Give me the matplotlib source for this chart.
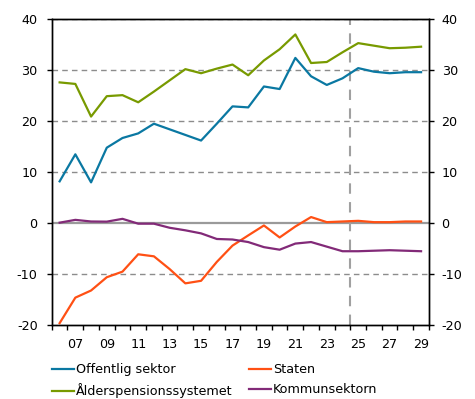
import matplotlib
matplotlib.use("Agg")
import matplotlib.pyplot as plt
import numpy as np

years = list(range(2006, 2030))
offentlig = [8.2, 13.5, 8.0, 14.8, 16.7, 17.6, 19.5, 18.4, 17.3, 16.2, 19.5, 22.9, 22.7,
             26.8, 26.3, 32.4, 28.8, 27.1, 28.4, 30.4, 29.7, 29.4, 29.6, 29.6]
staten = [-19.6, -14.6, -13.2, -10.6, -9.5, -6.1, -6.5, -9.0, -11.8, -11.3, -7.6, -4.4, -2.4,
          -0.45, -2.8, -0.65, 1.2, 0.2, 0.33, 0.46, 0.2, 0.2, 0.33, 0.33]
alders = [27.6, 27.3, 20.9, 24.9, 25.1, 23.7, 25.8, 28.0, 30.2, 29.4, 30.3, 31.1, 29.0,
          31.9, 34.1, 37.0, 31.4, 31.6, 33.5, 35.3, 34.8, 34.3, 34.4, 34.6]
kommun = [0.1, 0.65, 0.33, 0.3, 0.85, -0.1, -0.1, -0.9, -1.4, -2.0, -3.1, -3.2, -3.7,
          -4.7, -5.2, -4.0, -3.7, -4.6, -5.5, -5.5, -5.4, -5.3, -5.4, -5.5]
labels = ["Offentlig sektor", "Staten", "Ålderspensionssystemet", "Kommunsektorn"]
colors = ["#0a78a2", "#ff5014", "#789a00", "#822a78"]
yticks = [-20, -10, 0, 10, 20, 30, 40]
xlabel_years = list(range(2007, 2030, 2))
forecast_start = 2024.5

plt.rcParams['font.family'] = ['DejaVu Sans']
fs = 9.2

fig = plt.figure(figsize=(4.75, 3.99), dpi=100)
ax = fig.add_axes([0.109, 0.185, 0.794, 0.767])

for y in [-10, 10, 20, 30, 40]:
    ax.axhline(y, color="#8c8c8c", lw=1.0, ls=(0, (4, 3)), zorder=1)
ax.axhline(0, color="#9a9a9a", lw=1.6, zorder=1)
ax.axvline(forecast_start, color="#a0a0a0", lw=1.5, ls=(0, (5, 4)), zorder=1)

series = [offentlig, staten, alders, kommun]
handles = {}
for i in range(4):
    h, = ax.plot(years, series[i], color=colors[i], lw=1.6, zorder=3, label=labels[i])
    handles[i] = h

ax.set_xlim(years[0] - 0.5, years[-1] + 0.5)
ax.set_ylim(-20, 40)
ax.set_yticks(yticks)
ax.set_yticklabels([str(v) for v in yticks], fontsize=fs)
ax.set_xticks(np.arange(years[0] - 0.5, years[-1] + 1, 1.0))
ax.set_xticklabels([])
ax.set_xticks(xlabel_years, minor=True)
ax.set_xticklabels([f"{y % 100:02d}" for y in xlabel_years], minor=True, fontsize=fs)
ax.tick_params(axis='x', which='major', direction='out', length=3.6, width=1)
ax.tick_params(axis='x', which='minor', length=0, pad=9.5)
ax.tick_params(axis='y', direction='out', length=3.6, width=1, pad=6.5)
for s in ax.spines.values():
    s.set_linewidth(1.0)
    s.set_color("black")

ax2 = ax.twinx()
ax2.set_ylim(-20, 40)
ax2.set_yticks(yticks)
ax2.set_yticklabels([str(v) for v in yticks], fontsize=fs)
ax2.tick_params(axis='y', direction='out', length=3.6, width=1, pad=5.5)
for s in ax2.spines.values():
    s.set_linewidth(1.0)

leg = ax.legend([handles[0], handles[2], handles[1], handles[3]],
                [labels[0], labels[2], labels[1], labels[3]],
                ncol=2, loc='upper left', bbox_to_anchor=(-0.013, -0.108),
                frameon=False, fontsize=fs, handlelength=1.75, handletextpad=0.15,
                columnspacing=1.25, labelspacing=0.55, borderaxespad=0)

fig.savefig("out.png", dpi=100)
